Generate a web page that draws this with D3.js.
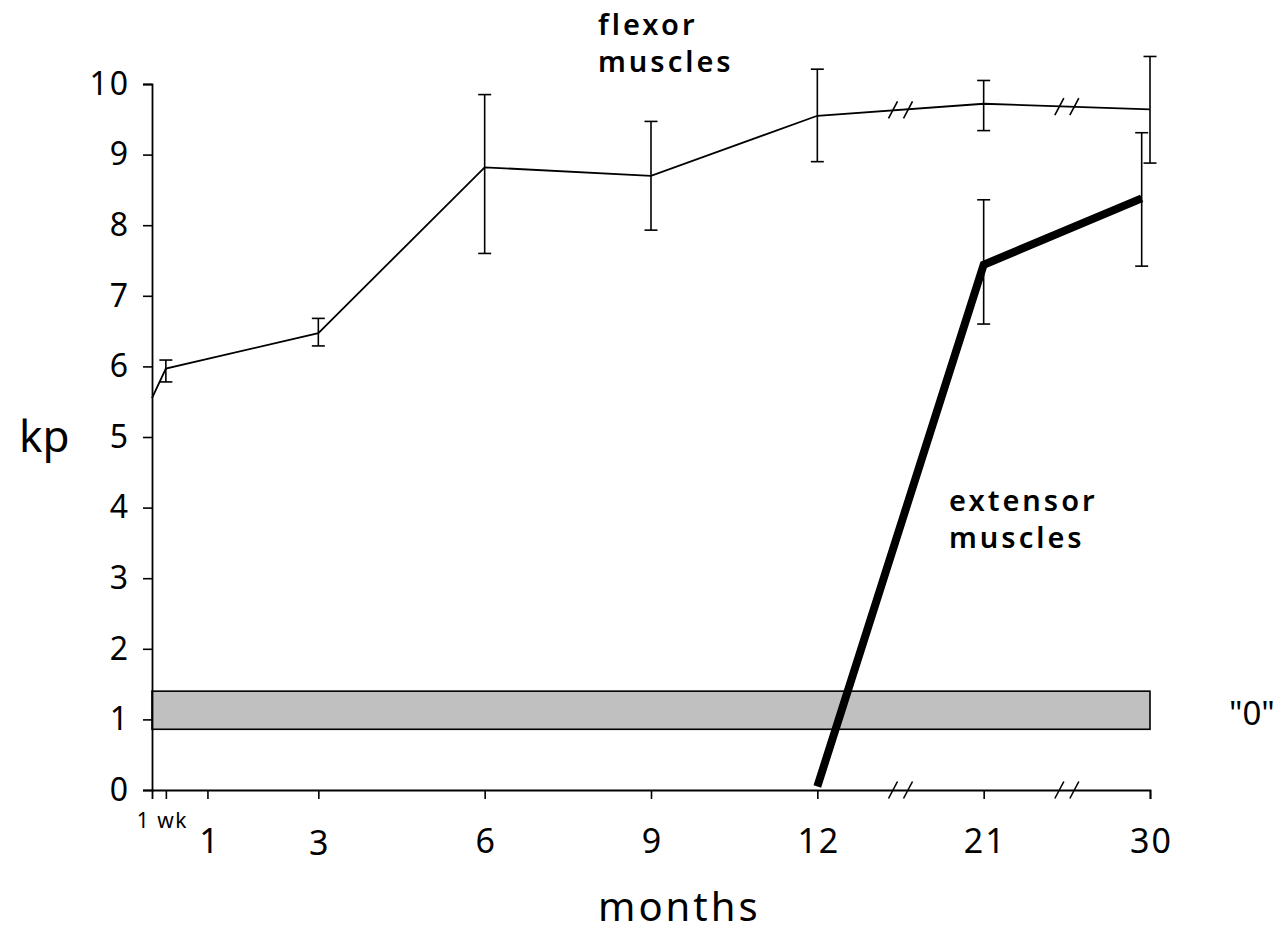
<!DOCTYPE html>
<html>
<head>
<meta charset="utf-8">
<script src="https://cdn.jsdelivr.net/npm/d3@7"></script>
<style>
  body { margin: 0; background: #fff; }
  svg { display: block; }
  text { font-family: "Noto Sans", sans-serif; fill: #000; }
</style>
</head>
<body>
<script>
// data (kp vs months)
const flexorMonths = [0, 0.25, 3, 6, 9, 12, 21, 30];
const flexorValues = [5.55, 5.97, 6.47, 8.82, 8.70, 9.55, 9.72, 9.64];
const flexorErrLow = [null, 5.78, 6.29, 7.60, 7.93, 8.90, 9.34, 8.88];
const flexorErrHigh = [null, 6.09, 6.68, 9.85, 9.47, 10.21, 10.05, 10.39];

const extensorMonths = [12, 21, 29.55];
const extensorValues = [0.05, 7.44, 8.38];
const extensorErrLow = [null, 6.60, 7.42];
const extensorErrHigh = [null, 8.36, 9.31];

// shaded "0" band
const zeroBand = [0.86, 1.40];

const xTickValues = [0.25, 1, 3, 6, 9, 12, 21, 30];
const xTickLabels = ["1 wk", "1", "3", "6", "9", "12", "21", "30"];
const yTickValues = [0, 1, 2, 3, 4, 5, 6, 7, 8, 9, 10];
const breakMonths = [16.5, 25.5];

// canvas
const canvWidth = 1281, canvHeight = 936;
const svg = d3.select("body").append("svg")
    .attr("width", canvWidth)
    .attr("height", canvHeight);

const margin = {top: 84, right: 131, bottom: 146, left: 152};
const width = canvWidth - margin.left - margin.right;   // 998
const height = canvHeight - margin.top - margin.bottom; // 706

const g = svg.append("g")
    .attr("transform", "translate(" + margin.left + "," + margin.top + ")");

// broken x axis: 12 -> 21 -> 30 squeezed to 3-month steps
const xScale = d3.scaleLinear()
    .domain([0, 12, 21, 30])
    .range([0, width * 12 / 18, width * 15 / 18, width]);

const yScale = d3.scaleLinear()
    .domain([0, 10])
    .range([height, 0]);

// grey band
g.append("rect")
    .attr("x", xScale(0))
    .attr("y", yScale(zeroBand[1]))
    .attr("width", xScale(30) - xScale(0))
    .attr("height", yScale(zeroBand[0]) - yScale(zeroBand[1]))
    .attr("fill", "#c0c0c0")
    .attr("stroke", "#000")
    .attr("stroke-width", 1.6);

// axes
const xAxis = d3.axisBottom(xScale)
    .tickValues(xTickValues)
    .tickFormat((d, i) => xTickLabels[i])
    .tickSizeOuter(0)
    .tickSize(9);
const xg = g.append("g")
    .attr("transform", "translate(0," + height + ")")
    .call(xAxis);
xg.selectAll("text")
    .attr("font-size", (d, i) => i === 0 ? "21px" : "34px")
    .attr("font-family", "Noto Sans")
    .style("letter-spacing", (d, i) => i === 0 ? "1.5px" : "2px")
    .attr("dy", null)
    .attr("y", (d, i) => i === 0 ? 38 : (i === 2 ? 65 : 63))
    .attr("x", (d, i) => i === 0 ? -4 : (i === 1 ? 2 : 1));

const yAxis = d3.axisLeft(yScale)
    .tickValues(yTickValues)
    .tickSizeOuter(0)
    .tickSize(9)
    .tickPadding(13);
const yg = g.append("g").call(yAxis);
yg.selectAll("text")
    .attr("font-size", "32px")
    .attr("font-family", "Noto Sans")
    .style("letter-spacing", "2px");

[xg, yg].forEach(a => {
    a.select(".domain").attr("stroke-width", 1.8);
    a.selectAll(".tick line").attr("stroke-width", 1.6);
});

// lines
const line = d3.line()
    .x(d => xScale(d[0]))
    .y(d => yScale(d[1]));

const flexorPts = flexorMonths.map((m, i) => [m, flexorValues[i]]);
const extensorPts = extensorMonths.map((m, i) => [m, extensorValues[i]]);

g.append("path")
    .datum(flexorPts)
    .attr("fill", "none")
    .attr("stroke", "#000")
    .attr("stroke-width", 1.8)
    .attr("d", line);

g.append("path")
    .datum(extensorPts)
    .attr("fill", "none")
    .attr("stroke", "#000")
    .attr("stroke-width", 8)
    .attr("d", line);

// error bars
function errorBars(months, lo, hi) {
    const cap = 6.5;
    months.forEach((m, i) => {
        if (lo[i] == null) return;
        const x = xScale(m), y0 = yScale(lo[i]), y1 = yScale(hi[i]);
        const eb = g.append("g")
            .attr("stroke", "#000")
            .attr("stroke-width", 1.6);
        eb.append("line").attr("x1", x).attr("x2", x).attr("y1", y0).attr("y2", y1);
        eb.append("line").attr("x1", x - cap).attr("x2", x + cap).attr("y1", y0).attr("y2", y0);
        eb.append("line").attr("x1", x - cap).attr("x2", x + cap).attr("y1", y1).attr("y2", y1);
    });
}
errorBars(flexorMonths, flexorErrLow, flexorErrHigh);
errorBars(extensorMonths, extensorErrLow, extensorErrHigh);

// break marks "//" on the axis and on the flexor line
function breakMark(cx, cy) {
    [-7.5, 7.5].forEach(off => {
        g.append("line")
            .attr("x1", cx + off - 4.5).attr("y1", cy + 8.5)
            .attr("x2", cx + off + 4.5).attr("y2", cy - 8.5)
            .attr("stroke", "#000")
            .attr("stroke-width", 1.6);
    });
}
breakMonths.forEach(m => {
    const cx = xScale(m);
    breakMark(cx, height);
    // interpolate the flexor line in pixel space
    const i = flexorMonths.findIndex(v => v > m);
    const xa = xScale(flexorMonths[i - 1]), xb = xScale(flexorMonths[i]);
    const ya = yScale(flexorValues[i - 1]), yb = yScale(flexorValues[i]);
    breakMark(cx, ya + (yb - ya) * (cx - xa) / (xb - xa));
});

// labels
svg.append("text")
    .attr("x", 19)
    .attr("y", 452)
    .attr("font-size", "44px")
    .text("kp");

svg.append("text")
    .attr("x", 598)
    .attr("y", 921)
    .attr("font-size", "40px")
    .style("letter-spacing", "3px")
    .text("months");

function groupLabel(x, y, lines) {
    const t = svg.append("text")
        .attr("x", x)
        .attr("y", y)
        .attr("font-size", "29px")
        .attr("font-weight", 600)
        .style("letter-spacing", "3px");
    lines.forEach((s, i) => {
        t.append("tspan").attr("x", x).attr("dy", i === 0 ? 0 : 37).text(s);
    });
}
groupLabel(598, 35, ["flexor", "muscles"]);
groupLabel(949, 511, ["extensor", "muscles"]);

svg.append("text")
    .attr("x", 1229)
    .attr("y", 725)
    .attr("font-size", "33px")
    .text('"0"');
</script>
</body>
</html>
